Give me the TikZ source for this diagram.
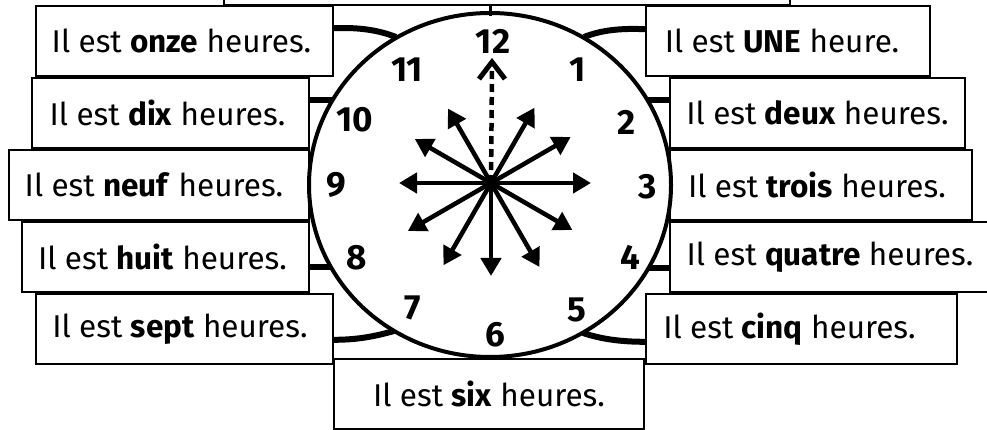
\documentclass[tikz,border=0pt]{standalone}
\usepackage{fontspec}
\setmainfont{Fira Sans}
\usetikzlibrary{arrows.meta,shapes.geometric}
\begin{document}
\begin{tikzpicture}[x=1pt,y=-1pt,
  box/.style={draw,line width=1.6pt,fill=white,inner sep=0pt,minimum height=70pt,font=\fontsize{31.5}{38}\selectfont},
  conn/.style={line width=6pt},
  hand/.style={line width=4.5pt,-{Triangle[length=18pt,width=20pt]}},
  num/.style={font=\fontsize{35}{40}\selectfont\bfseries,inner sep=0pt}]
\useasboundingbox (0,0) rectangle (987,430);
\fill[white] (0,0) rectangle (987,430);
% boxes
\node[box,minimum width=566pt,minimum height=40pt] (top) at (507,-15) {};
\node[box,minimum width=297pt] (onze) at (184.5,41) {Il est \textbf{onze} heures.\hspace*{6pt}};
\node[box,minimum width=277pt] (dix) at (170.5,113) {Il est \textbf{dix} heures.\hspace*{6pt}};
\node[box,minimum width=300pt] (neuf) at (159,185) {Il est \textbf{neuf} heures.\hspace*{10pt}};
\node[box,minimum width=287pt] (huit) at (165.5,257) {Il est \textbf{huit} heures.\hspace*{6pt}};
\node[box,minimum width=297pt] (sept) at (184.5,329) {Il est \textbf{sept} heures.\hspace*{9pt}};
\node[box,minimum width=310pt] (six) at (489,394) {Il est \textbf{six} heures.};
\node[box,minimum width=284pt] (une) at (788,41) {Il est \textbf{UNE} heure.\hspace*{12pt}};
\node[box,minimum width=295pt] (deux) at (817.5,113) {Il est \textbf{deux} heures.};
\node[box,minimum width=302pt] (trois) at (821,185) {Il est \textbf{trois} heures.\hspace*{8pt}};
\node[box,minimum width=320pt] (quatre) at (830,257) {Il est \textbf{quatre} heures.};
\node[box,minimum width=311pt] (cinq) at (801.5,329) {Il est \textbf{cinq} heures.\hspace*{24pt}};
% connectors
\coordinate (k12) at (490,16);
\coordinate (k11) at (396,37);
\coordinate (k1) at (584,37);
\coordinate (k10) at (332,100);
\coordinate (k2) at (648,100);
\coordinate (k8) at (331,267);
\coordinate (k4) at (649,268);
\coordinate (k7) at (394,331);
\coordinate (k5) at (583,333);
\draw[line width=3pt] (top.south -| k12) -- (k12);
\draw[conn] ([yshift=-23pt]onze.north east) .. controls +(25,-1) and +(-18,-7) .. (k11);
\draw[conn] ([yshift=-24pt]une.north west) .. controls +(-25,-1) and +(18,-7) .. (k1);
\draw[conn] (k10 -| dix.east) -- (k10);
\draw[conn] (k8 -| huit.east) -- (k8);
\draw[conn] (k2 -| deux.west) -- (k2);
\draw[conn] (k4 -| quatre.west) -- (k4);
\draw[conn] ([yshift=25pt]sept.south east) .. controls +(25,0) and +(-18,5) .. (k7);
\draw[conn] ([yshift=23pt]cinq.south west) .. controls +(-25,0) and +(18,6) .. (k5);
% clock face
\node[draw,ellipse,line width=4pt,minimum width=362pt,minimum height=344pt,inner sep=0pt] (face) at (490,185) {};
% numerals
\node[num] (n12) at (493,41) {12};
\node[num] (n1) at (578,70) {1};
\node[num] (n2) at (627,122) {2};
\node[num] (n3) at (648,187) {3};
\node[num] (n4) at (630,257) {4};
\node[num] (n5) at (577,310) {5};
\node[num] (n6) at (495,335) {6};
\node[num] (n7) at (413,308) {7};
\node[num] (n8) at (357,258) {8};
\node[num] (n9) at (336,185) {9};
\node[num] (n10) at (355,120) {10};
\node[num] (n11) at (407,70) {11};
% hands
\coordinate (hub) at (491,183);
\foreach \a/\l in {0/100,30/92,60/87,120/86,150/88,180/92,210/96,240/95,270/93,300/97,330/94}
  \draw[hand] (hub) -- ++(\a:\l pt);
\coordinate (tip12) at (492,62);
\draw[line width=4.5pt,dash pattern=on 8pt off 5pt] (hub) -- (492,70);
\draw[line width=5pt,line join=miter] ([shift={(-13pt,-17pt)}]tip12) -- (tip12) -- ([shift={(13pt,-17pt)}]tip12);
\fill (hub) circle[radius=7pt];
\end{tikzpicture}
\end{document}
